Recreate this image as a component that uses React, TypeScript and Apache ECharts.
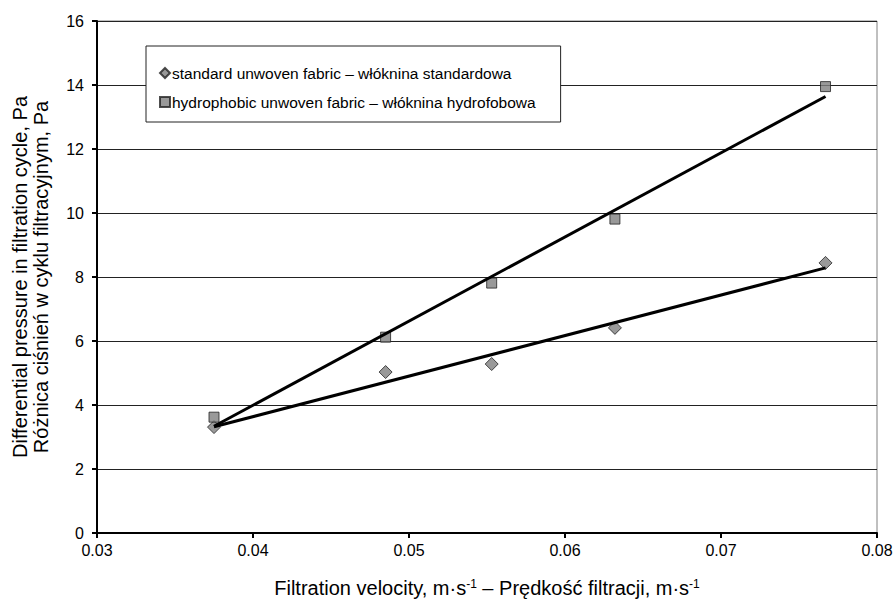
import React, { useEffect, useRef } from "react";
import * as echarts from "echarts";

const velocity = [0.0375, 0.0485, 0.0553, 0.0632, 0.0767];
const standardPressure = [3.31, 5.03, 5.28, 6.41, 8.44];
const hydrophobicPressure = [3.62, 6.12, 7.81, 9.81, 13.95];
const seriesNames = [
  "standard unwoven fabric – włóknina standardowa",
  "hydrophobic unwoven fabric – włóknina hydrofobowa",
];
const yAxisTitle = "Differential pressure in filtration cycle, Pa\nRóżnica ciśnień w cyklu filtracyjnym, Pa";
const xAxisTitle = "Filtration velocity, m·s{sup|-1} – Prędkość filtracji, m·s{sup|-1}";

const FONT = '"Liberation Sans", Arial, sans-serif';

function fitLine(xs: number[], ys: number[]) {
  const n = xs.length;
  const mx = xs.reduce((a, b) => a + b, 0) / n;
  const my = ys.reduce((a, b) => a + b, 0) / n;
  let sxy = 0;
  let sxx = 0;
  for (let i = 0; i < n; i++) {
    sxy += (xs[i] - mx) * (ys[i] - my);
    sxx += (xs[i] - mx) * (xs[i] - mx);
  }
  const b = sxy / sxx;
  const a = my - b * mx;
  const x0 = Math.min(...xs);
  const x1 = Math.max(...xs);
  return [
    [x0, a + b * x0],
    [x1, a + b * x1],
  ];
}

export default function App() {
  const ref = useRef<HTMLDivElement>(null);
  useEffect(() => {
    if (!ref.current) return;
    const chart = echarts.init(ref.current, undefined, { renderer: "svg" });
    const markerStyle = { color: "#808080", borderColor: "#222", borderWidth: 1 };
    chart.setOption({
      animation: false,
      backgroundColor: "#fff",
      textStyle: { fontFamily: FONT },
      grid: {
        left: 97,
        right: 17,
        top: 21,
        bottom: 78,
        outerBoundsMode: "none",
        containLabel: false,
        show: true,
        borderColor: "#808080",
        borderWidth: 1,
        backgroundColor: "transparent",
      },
      legend: {
        data: seriesNames,
        orient: "vertical",
        left: 146,
        top: 46,
        backgroundColor: "#fff",
        borderColor: "#222",
        borderWidth: 1,
        padding: [19, 25, 12, 13],
        itemGap: 13,
        itemWidth: 10,
        itemHeight: 10,
        textStyle: { fontFamily: FONT, fontSize: 15.5, color: "#000", padding: [0, 0, 0, -3] },
      },
      xAxis: {
        type: "value",
        min: 0.03,
        max: 0.08,
        interval: 0.01,
        name: xAxisTitle,
        nameLocation: "middle",
        nameGap: 45,
        nameTextStyle: {
          fontFamily: FONT,
          fontSize: 20,
          color: "#000",
          rich: {
            sup: { fontFamily: FONT, fontSize: 12, color: "#000", verticalAlign: "top", lineHeight: 12 },
          },
        },
        axisLine: { lineStyle: { color: "#000", width: 2 } },
        axisTick: { show: true, length: 5, lineStyle: { color: "#000", width: 2 } },
        axisLabel: {
          fontFamily: FONT,
          fontSize: 16,
          color: "#000",
          margin: 9,
          formatter: (v: number) => v.toFixed(2),
        },
        splitLine: { show: false },
      },
      yAxis: {
        type: "value",
        min: 0,
        max: 16,
        interval: 2,
        name: yAxisTitle,
        nameLocation: "middle",
        nameGap: 46,
        nameTextStyle: { fontFamily: FONT, fontSize: 20, color: "#000", lineHeight: 21 },
        axisLine: { lineStyle: { color: "#000", width: 2 } },
        axisTick: { show: true, length: 5, lineStyle: { color: "#000", width: 2 } },
        axisLabel: { fontFamily: FONT, fontSize: 16, color: "#000", margin: 13 },
        splitLine: { show: true, lineStyle: { color: "#222", width: 1 } },
      },
      series: [
        {
          name: seriesNames[0] + " trend",
          type: "line",
          data: fitLine(velocity, standardPressure),
          symbol: "none",
          lineStyle: { color: "#000", width: 3 },
          z: 3,
        },
        {
          name: seriesNames[1] + " trend",
          type: "line",
          data: fitLine(velocity, hydrophobicPressure),
          symbol: "none",
          lineStyle: { color: "#000", width: 3 },
          z: 3,
        },
        {
          name: seriesNames[0],
          type: "scatter",
          symbol: "diamond",
          symbolSize: 13,
          data: velocity.map((v, i) => [v, standardPressure[i]]),
          itemStyle: markerStyle,
          z: 2,
        },
        {
          name: seriesNames[1],
          type: "scatter",
          symbol: "rect",
          symbolSize: 10,
          data: velocity.map((v, i) => [v, hydrophobicPressure[i]]),
          itemStyle: markerStyle,
          z: 2,
        },
      ],
    });
    return () => chart.dispose();
  }, []);
  return <div ref={ref} style={{ width: 894, height: 611, position: "fixed", left: 0, top: 0 }} />;
}
